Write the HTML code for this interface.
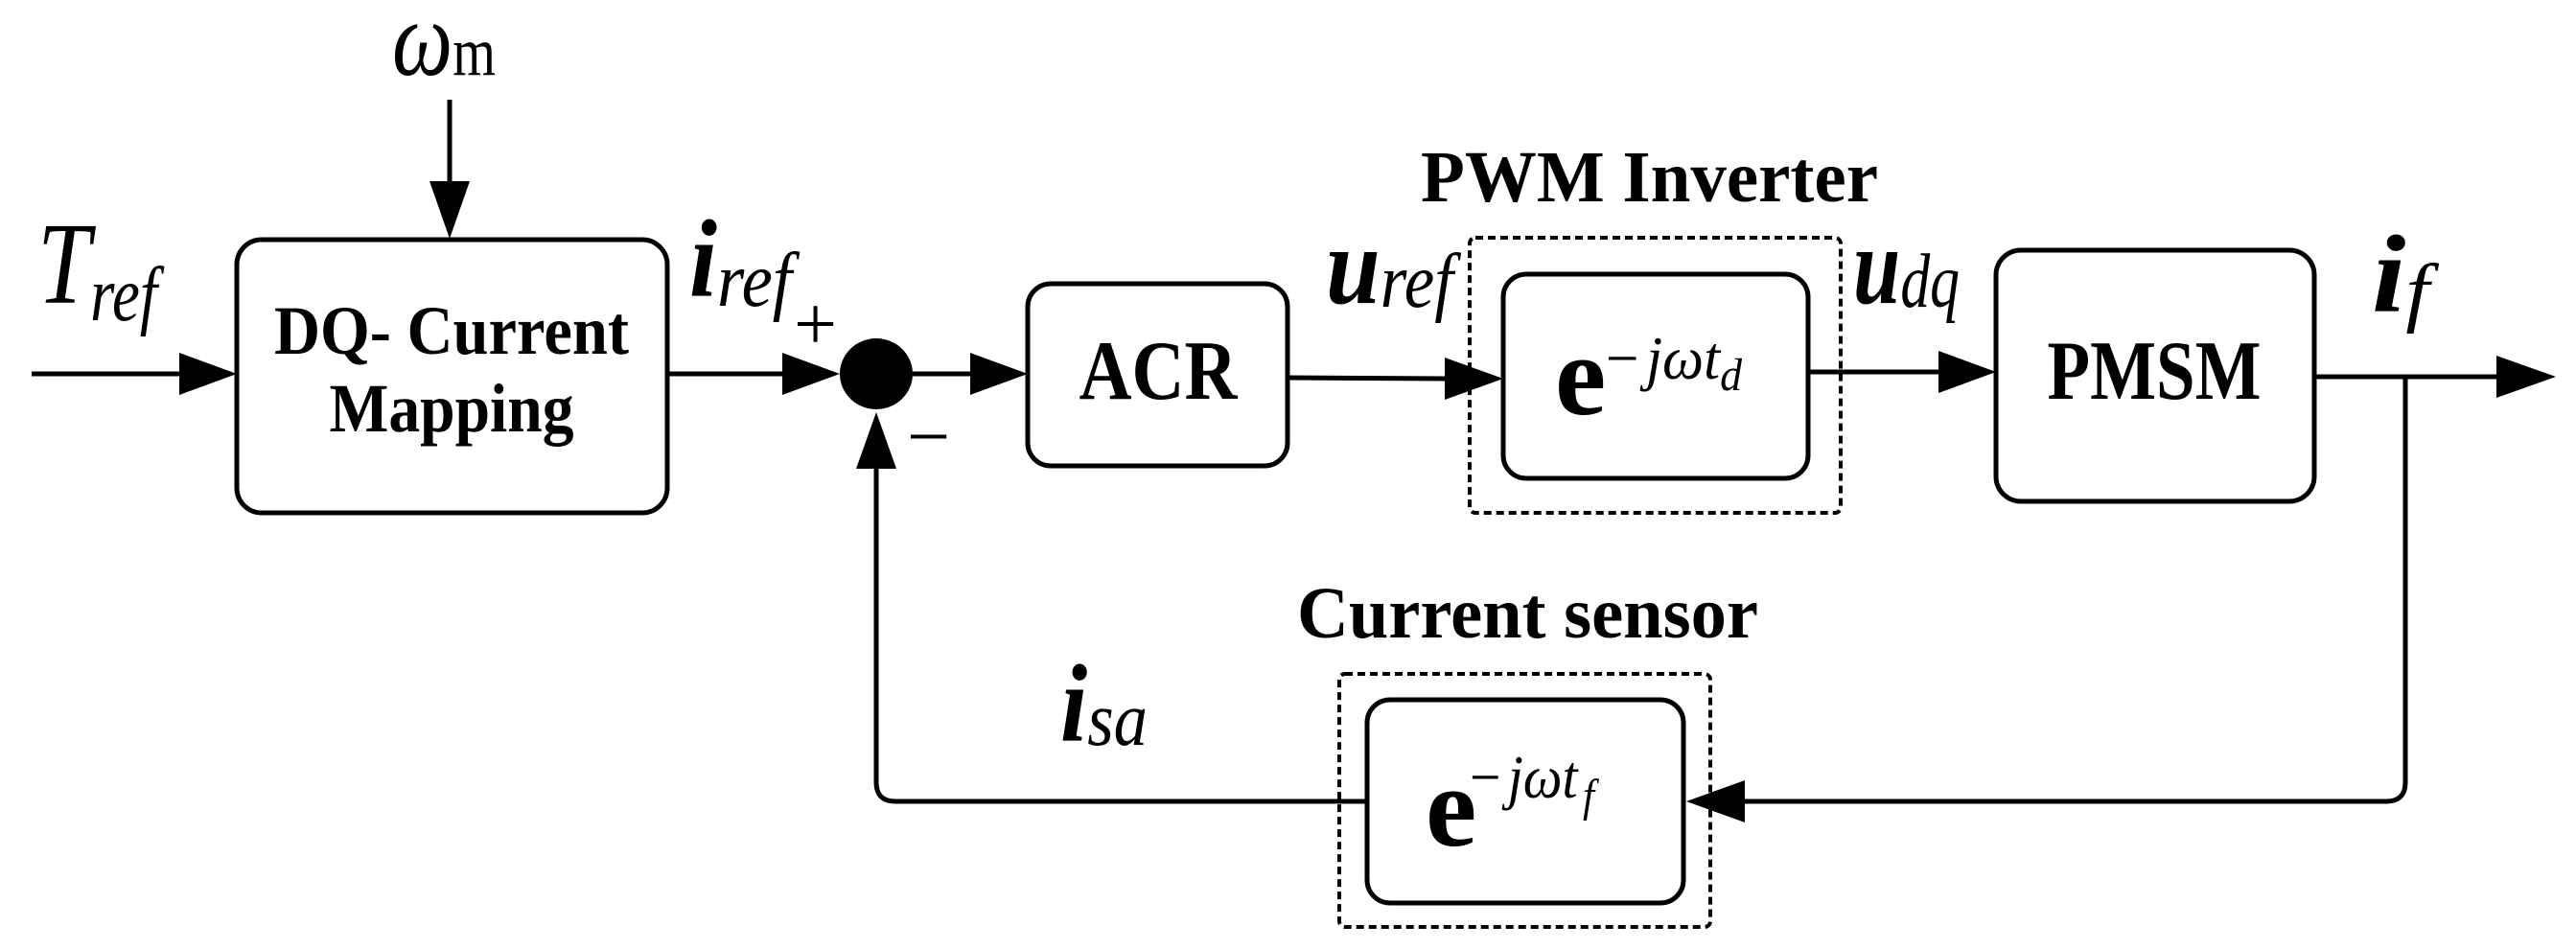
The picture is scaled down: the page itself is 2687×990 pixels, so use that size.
<!DOCTYPE html>
<html><head><meta charset="utf-8"><style>
html,body{margin:0;padding:0;background:#fff;}
svg{display:block;}
</style></head><body>
<svg width="2687" height="990" viewBox="0 0 2687 990" xmlns="http://www.w3.org/2000/svg" font-family="'Liberation Serif', 'Times New Roman', Times, serif">
<g fill="none" stroke="#000" stroke-width="5">
  <rect x="247" y="250" width="449" height="285" rx="26"/>
  <rect x="1072" y="296" width="271" height="190" rx="24"/>
  <rect x="1568" y="286" width="318" height="213" rx="24"/>
  <rect x="2082" y="261" width="332" height="262" rx="26"/>
  <rect x="1426" y="730" width="330" height="212" rx="24"/>
  <rect x="1533" y="248" width="387" height="287" rx="6" stroke-width="4" stroke-dasharray="8 5"/>
  <rect x="1397" y="703" width="387" height="264" rx="6" stroke-width="4" stroke-dasharray="8 5"/>
  <line x1="469" y1="104" x2="469" y2="195"/>
  <line x1="33" y1="390" x2="195" y2="390"/>
  <line x1="696" y1="390" x2="820" y2="390"/>
  <line x1="952" y1="390" x2="1015" y2="390"/>
  <line x1="1343" y1="394" x2="1510" y2="395"/>
  <line x1="1886" y1="388" x2="2025" y2="388"/>
  <line x1="2414" y1="393" x2="2610" y2="393"/>
  <path d="M2509 393 V816 Q2509 836 2489 836 H1815"/>
  <path d="M1426 836 H934 Q914 836 914 816 V485"/>
</g>
<g fill="#000">
  <polygon points="448,189 490,189 469,249"/>
  <polygon points="187,368 187,412 247,390"/>
  <polygon points="816,368 816,412 876,390"/>
  <polygon points="1012,368 1012,412 1072,390"/>
  <polygon points="1507,373 1507,417 1568,395"/>
  <polygon points="2022,366 2022,410 2082,388"/>
  <polygon points="2604,371 2604,415 2666,393"/>
  <polygon points="1820,814 1820,858 1759,836"/>
  <polygon points="893,489 935,489 914,430"/>
  <ellipse cx="914" cy="390" rx="38" ry="37"/>
</g>
<g fill="#000">
<text x="409" y="78" font-style="italic" font-size="112" textLength="108" lengthAdjust="spacingAndGlyphs">ω<tspan font-style="normal" font-size="72">m</tspan></text>
<text x="39" y="316" font-style="italic" font-size="122" textLength="125" lengthAdjust="spacingAndGlyphs">T<tspan font-size="80" dy="18">ref</tspan></text>
<text x="719" y="309" font-size="115" textLength="107" lengthAdjust="spacingAndGlyphs"><tspan font-weight="bold" font-style="italic">i</tspan><tspan font-style="italic" font-size="80" dy="10">ref</tspan></text>
<text x="828" y="365" font-size="80">+</text>
<text x="946" y="482" font-size="80">−</text>
<text x="471" y="369" font-weight="bold" font-size="72" text-anchor="middle" textLength="370" lengthAdjust="spacingAndGlyphs">DQ- Current</text>
<text x="471" y="450" font-weight="bold" font-size="72" text-anchor="middle" textLength="255" lengthAdjust="spacingAndGlyphs">Mapping</text>
<text x="1208" y="416" font-weight="bold" font-size="88" text-anchor="middle" textLength="165" lengthAdjust="spacingAndGlyphs">ACR</text>
<text x="2247" y="416" font-weight="bold" font-size="88" text-anchor="middle" textLength="223" lengthAdjust="spacingAndGlyphs">PMSM</text>
<text x="1482" y="210" font-weight="bold" font-size="76" textLength="477" lengthAdjust="spacingAndGlyphs">PWM Inverter</text>
<text x="1353" y="665" font-weight="bold" font-size="76" textLength="481" lengthAdjust="spacingAndGlyphs">Current sensor</text>
<text x="1383" y="316" font-size="115" textLength="133" lengthAdjust="spacingAndGlyphs"><tspan font-weight="bold" font-style="italic">u</tspan><tspan font-style="italic" font-size="80" dy="4">ref</tspan></text>
<text x="1933" y="316" font-size="115" textLength="111" lengthAdjust="spacingAndGlyphs"><tspan font-weight="bold" font-style="italic">u</tspan><tspan font-style="italic" font-size="80" dy="4">dq</tspan></text>
<text x="2474" y="325" font-size="115" textLength="60" lengthAdjust="spacingAndGlyphs"><tspan font-weight="bold" font-style="italic">i</tspan><tspan font-style="italic" font-size="80" dy="6">f</tspan></text>
<text x="1106" y="773" font-size="115" textLength="91" lengthAdjust="spacingAndGlyphs"><tspan font-weight="bold" font-style="italic">i</tspan><tspan font-style="italic" font-size="80" dy="4">sa</tspan></text>
<text x="1622" y="432" font-weight="bold" font-size="120">e</text>
<text x="1675" y="395" font-size="64" textLength="142" lengthAdjust="spacingAndGlyphs">−<tspan font-style="italic" dx="8">jωt</tspan><tspan font-style="italic" font-size="48" dy="12">d</tspan></text>
<text x="1487" y="882" font-weight="bold" font-size="120">e</text>
<text x="1533" y="832" font-size="64" textLength="130" lengthAdjust="spacingAndGlyphs">−<tspan font-style="italic" dx="8">jωt</tspan><tspan font-style="italic" font-size="48" dy="14" dx="6">f</tspan></text>
</g>
</svg>
</body></html>
